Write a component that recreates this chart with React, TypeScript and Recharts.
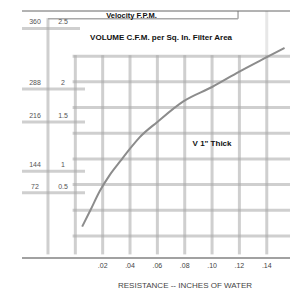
import React from 'react';
import {
  ComposedChart,
  Line,
  Scatter,
  XAxis,
  YAxis,
  ReferenceLine,
  Label,
} from 'recharts';

// resistance (in. of water) vs volume
const resistance = [0.005, 0.011, 0.018, 0.025, 0.033, 0.040, 0.047, 0.060, 0.079, 0.100, 0.120, 0.140, 0.153];
const volume = [0.34, 0.50, 0.69, 0.84, 0.98, 1.10, 1.21, 1.36, 1.56, 1.70, 1.85, 1.99, 2.08];

const xTicks = [0.02, 0.04, 0.06, 0.08, 0.1, 0.12, 0.14];
const gridX = [0, 0.02, 0.04, 0.06, 0.08, 0.1, 0.12, 0.14];
const gridY = [0.25, 0.5, 0.75, 1, 1.25, 1.5, 1.75, 2];

// left scale labels and the levels where the scan prints them
const velocityTicks = [360, 288, 216, 144, 72];
const volumeTicks = [2.5, 2, 1.5, 1, 0.5];
const labelLevels = [2.27, 1.68, 1.36, 0.88, 0.67];

const X_MIN = -0.039;
const X_MAX = 0.157;
const Y_MIN = 0.035;
const Y_MAX = 2.44;

const curve = resistance.map((x, i) => ({ x, y: volume[i] }));
const leftLabels = velocityTicks.map((v, i) => ({ x: X_MIN, y: labelLevels[i], v, q: volumeTicks[i] }));
const notes = [
  { x: 0.0411, y: 2.395, text: 'Velocity F.P.M.', size: 7.5 },
  { x: 0.0627, y: 2.185, text: 'VOLUME C.F.M. per Sq. In. Filter Area', size: 8 },
  { x: 0.1, y: 1.154, text: 'V 1" Thick', size: 8 },
];

const FONT = '"Liberation Sans", Arial, sans-serif';
const gridStyle = { stroke: '#a8a8a8', strokeWidth: 3, strokeOpacity: 0.55 };

const LeftLabel = (props: any) => {
  const { cx, cy, payload } = props;
  const len = payload.v === 360 ? 58 : 63;
  const txt = { fill: '#555', fontSize: 7, fontFamily: FONT };
  return (
    <g>
      <line x1={cx} y1={cy} x2={cx + len} y2={cy} {...gridStyle} />
      <text x={cx + 13} y={cy - 4} textAnchor="middle" style={txt}>
        {payload.v}
      </text>
      <text x={cx + 41} y={cy - 4} textAnchor="middle" style={txt}>
        {payload.q}
      </text>
    </g>
  );
};

const Note = (props: any) => {
  const { cx, cy, payload } = props;
  return (
    <text
      x={cx}
      y={cy}
      textAnchor="middle"
      dominantBaseline="central"
      style={{ fill: '#111', fontSize: payload.size, fontWeight: 'bold', fontFamily: FONT }}
    >
      {payload.text}
    </text>
  );
};

export default function App() {
  return (
    <div style={{ position: 'absolute', left: 0, top: 0, width: 290, height: 295, background: '#fff' }}>
      <ComposedChart width={290} height={295} margin={{ top: 11, right: 0, left: 22, bottom: 0 }}>
        <XAxis
          dataKey="x"
          type="number"
          domain={[X_MIN, X_MAX]}
          allowDataOverflow
          ticks={xTicks}
          tickFormatter={(v: number) => v.toFixed(2).replace(/^0/, '')}
          tickLine={false}
          tickSize={5}
          tickMargin={0}
          height={37}
          axisLine={{ stroke: '#444', strokeWidth: 1.2 }}
          tick={{ fontSize: 7, fill: '#444', fontFamily: FONT }}
        >
          <Label
            content={(p: any) => {
              const vb = p.viewBox;
              return (
                <text
                  x={vb.x + vb.width / 2 + 29}
                  y={vb.y + 27}
                  textAnchor="middle"
                  dominantBaseline="central"
                  style={{ fill: '#444', fontSize: 8, fontFamily: FONT }}
                >
                  RESISTANCE -- INCHES OF WATER
                </text>
              );
            }}
          />
        </XAxis>
        <YAxis
          dataKey="y"
          type="number"
          domain={[Y_MIN, Y_MAX]}
          allowDataOverflow
          width={0}
          tick={false}
          tickLine={false}
          axisLine={{ stroke: '#222', strokeWidth: 1.5 }}
        />

        {gridX.map((v) => (
          <ReferenceLine key={`vx${v}`} segment={[{ x: v, y: 2.01 }, { x: v, y: 0.07 }]} {...gridStyle} />
        ))}
        {gridY.map((v) => (
          <ReferenceLine key={`hy${v}`} segment={[{ x: -0.002, y: v }, { x: X_MAX, y: v }]} {...gridStyle} />
        ))}
        <ReferenceLine segment={[{ x: -0.02, y: 2.37 }, { x: -0.02, y: 0.07 }]} {...gridStyle} />
        <ReferenceLine segment={[{ x: 0.14, y: Y_MAX }, { x: 0.14, y: 2.01 }]} stroke="#bbb" strokeWidth={3} strokeOpacity={0.35} />

        <ReferenceLine segment={[{ x: -0.02, y: 2.365 }, { x: 0.119, y: 2.365 }]} stroke="#aaa" strokeWidth={1.5} />
        <ReferenceLine segment={[{ x: 0.119, y: 2.365 }, { x: 0.119, y: Y_MAX }]} stroke="#aaa" strokeWidth={1.5} />
        <ReferenceLine segment={[{ x: X_MIN, y: Y_MAX }, { x: X_MAX, y: Y_MAX }]} stroke="#666" strokeWidth={1} />

        <Line
          data={curve}
          dataKey="y"
          type="monotone"
          stroke="#8c8c8c"
          strokeWidth={2}
          dot={false}
          isAnimationActive={false}
        />
        <Scatter data={leftLabels} dataKey="y" shape={LeftLabel} isAnimationActive={false} />
        <Scatter data={notes} dataKey="y" shape={Note} isAnimationActive={false} />
      </ComposedChart>
    </div>
  );
}
